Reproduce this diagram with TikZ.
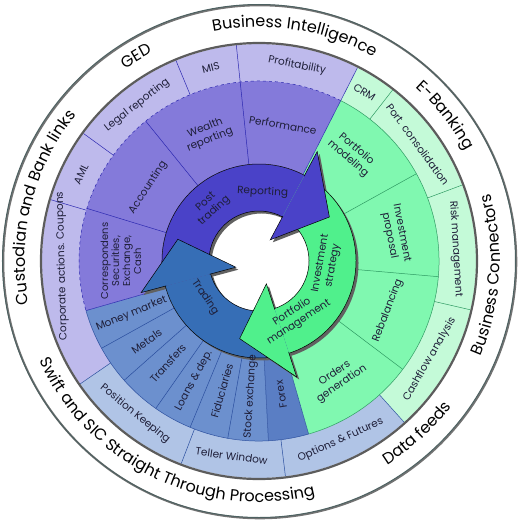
\documentclass[tikz,border=0pt]{standalone}
\usepackage{fontspec}
\setmainfont{Poppins}
\usetikzlibrary{decorations.text}
\definecolor{lpur}{HTML}{BEBAEC}
\definecolor{mpur}{HTML}{847ADA}
\definecolor{apur}{HTML}{4A42C8}
\definecolor{lblu}{HTML}{B0C4E6}
\definecolor{mblu}{HTML}{6C90CE}
\definecolor{fblu}{HTML}{5A7EC4}
\definecolor{ablu}{HTML}{366EB6}
\definecolor{lgrn}{HTML}{C4FAD8}
\definecolor{mgrn}{HTML}{80F8B0}
\definecolor{agrn}{HTML}{50F08C}
\definecolor{txt}{HTML}{1E1E38}
\definecolor{seppur}{HTML}{2C28B0}
\definecolor{sepblu}{HTML}{2A4E9E}
\definecolor{sepgrn}{HTML}{2E9A62}
\definecolor{cRing}{HTML}{5C5C5C}
\definecolor{cOuter}{HTML}{4E6262}
\newcommand{\annsec}[5]{\fill[#1] (#2:#4pt) arc[start angle=#2,end angle=#3,radius=#4pt] -- (#3:#5pt) arc[start angle=#3,end angle=#2,radius=#5pt] -- cycle;}
\newcommand{\radline}[4]{\draw[#1] (#2:#3pt) -- (#2:#4pt);}
\newcommand{\outerfont}{\fontsize{16}{19}\selectfont}
\tikzset{
  lab/.style={text=txt, font=\fontsize{10.5}{12.5}\selectfont, align=center, inner sep=0pt},
  sp/.style={line width=0.5pt, seppur},
  sb/.style={line width=0.5pt, sepblu},
  sg/.style={line width=0.5pt, sepgrn},
  shad/.style={fill=black!62},
  aline/.style={draw=black, line width=0.5pt},
  outerlab/.style={decorate, decoration={text along path, text align=center, text={#1}}}
}
\begin{document}
\begin{tikzpicture}
\useasboundingbox (-259pt,-259pt) rectangle (261pt,261pt);
% outermost circle
\draw[line width=2pt, black!55] (0.8pt,-0.8pt) circle[radius=256.5pt];
\draw[line width=1pt, cOuter] (0,0) circle[radius=256.5pt];
% light band
\annsec{lpur}{63}{214.5}{180}{217}
\annsec{lblu}{214.5}{312}{180}{217}
\annsec{lgrn}{312}{423}{180}{217}
% middle band
\annsec{mpur}{63}{196}{97}{180}
\annsec{mblu}{196}{273}{97}{180}
\annsec{fblu}{273}{286}{97}{180}
\annsec{mgrn}{286}{423}{97}{180}
% separators light band
\radline{sp}{96}{180}{217}
\radline{sp}{112.5}{180}{217}
\radline{sp}{144}{180}{217}
\radline{sp}{163.6}{180}{217}
\radline{sp}{63}{97}{217}
\radline{sb}{214.5}{180}{217}
\radline{sb}{249}{180}{217}
\radline{sb}{277}{180}{217}
\radline{sb}{312}{180}{217}
\radline{sg}{347}{180}{217}
\radline{sg}{380.5}{180}{217}
\radline{sg}{412}{180}{217}
% separators middle band
\radline{sp}{96}{97}{180}
\radline{sp}{129}{97}{180}
\radline{sp}{163}{97}{180}
\radline{sp}{196}{97}{180}
\radline{sb}{209}{97}{180}
\radline{sb}{221.5}{97}{180}
\radline{sb}{235}{97}{180}
\radline{sb}{247.5}{97}{180}
\radline{sb}{260}{97}{180}
\radline{sb}{273}{97}{180}
\radline{sb}{286}{97}{180}
\radline{sg}{323}{97}{180}
\radline{sg}{355}{97}{180}
\radline{sg}{389}{97}{180}
% band boundary arcs
\draw[sp, dashed] (63:180pt) arc[start angle=63,end angle=196,radius=180pt];
\draw[sb] (196:180pt) arc[start angle=196,end angle=286,radius=180pt];
\draw[sg] (286:180pt) arc[start angle=286,end angle=423,radius=180pt];
% band border
\draw[line width=2.2pt, cRing] (0,0) circle[radius=218pt];
% arrow shadows
\begin{scope}[shift={(2.5pt,-2.5pt)}]
\fill[shad] (195:97pt) arc[start angle=195,end angle=62,radius=97pt] -- (62:50pt) arc[start angle=62,end angle=195,radius=50pt] -- cycle;
\fill[shad] (62:97pt) arc[start angle=62,end angle=-72,radius=97pt] -- (-72:50pt) arc[start angle=-72,end angle=62,radius=50pt] -- cycle;
\fill[shad] (288:97pt) arc[start angle=288,end angle=195,radius=97pt] -- (195:50pt) arc[start angle=195,end angle=288,radius=50pt] -- cycle;
\fill[shad] (62:124pt) -- (32:83pt) -- (62:24pt) -- cycle;
\fill[shad] (-72:122pt) -- (-104:80pt) -- (-72:24pt) -- cycle;
\fill[shad] (195:122pt) -- (165:84pt) -- (195:24pt) -- cycle;
\end{scope}
% arrow bodies
\fill[apur] (195:97pt) arc[start angle=195,end angle=62,radius=97pt] -- (62:50pt) arc[start angle=62,end angle=195,radius=50pt] -- cycle;
\draw[aline] (195:97pt) arc[start angle=195,end angle=62,radius=97pt];
\draw[aline] (195:50pt) arc[start angle=195,end angle=62,radius=50pt];
\fill[agrn] (62:97pt) arc[start angle=62,end angle=-72,radius=97pt] -- (-72:50pt) arc[start angle=-72,end angle=62,radius=50pt] -- cycle;
\draw[aline] (62:97pt) arc[start angle=62,end angle=-72,radius=97pt];
\draw[aline] (62:50pt) arc[start angle=62,end angle=-72,radius=50pt];
\fill[ablu] (288:97pt) arc[start angle=288,end angle=195,radius=97pt] -- (195:50pt) arc[start angle=195,end angle=288,radius=50pt] -- cycle;
\draw[aline] (288:97pt) arc[start angle=288,end angle=195,radius=97pt];
\draw[aline] (288:50pt) arc[start angle=288,end angle=195,radius=50pt];
% arrow heads
\fill[apur] (62:124pt) -- (32:83pt) -- (62:24pt) -- cycle;
\draw[aline] (62:96pt) -- (62:124pt) -- (32:83pt) -- (62:24pt) -- (62:51pt);
\fill[agrn] (-72:122pt) -- (-104:80pt) -- (-72:24pt) -- cycle;
\draw[aline] (-72:96pt) -- (-72:122pt) -- (-104:80pt) -- (-72:24pt) -- (-72:51pt);
\fill[ablu] (195:122pt) -- (165:84pt) -- (195:24pt) -- cycle;
\draw[aline] (195:96pt) -- (195:122pt) -- (165:84pt) -- (195:24pt) -- (195:51pt);
% outer curved labels
\path[outerlab={|\outerfont|Business Intelligence}] (121:234pt) arc[start angle=121,end angle=41,radius=234pt];
\path[outerlab={|\outerfont|GED}] (141:234pt) arc[start angle=141,end angle=101,radius=234pt];
\path[outerlab={|\outerfont|Custodian and Bank links}] (216:234pt) arc[start angle=216,end angle=116,radius=234pt];
\path[outerlab={|\outerfont|E-Banking}] (68:234pt) arc[start angle=68,end angle=8,radius=234pt];
\path[outerlab={|\outerfont|Business Connectors}] (-50:241pt) arc[start angle=-50,end angle=43,radius=241pt];
\path[outerlab={|\outerfont|Data feeds}] (282.5:241pt) arc[start angle=282.5,end angle=342.5,radius=241pt];
\path[outerlab={|\outerfont|Swift and SIC Straight Through Processing}] (184:241pt) arc[start angle=184,end angle=304,radius=241pt];
% light band labels
\node[lab, rotate=-11] (profit) at (79:199pt) {Profitability};
\node[lab, rotate=14] (mis) at (104:199pt) {MIS};
\node[lab, rotate=38] (legal) at (128:198pt) {Legal reporting};
\node[lab, rotate=64] (aml) at (154:198pt) {AML};
\node[lab, rotate=91.5] (corp) at (181.5:197pt) {Corporate actions. Coupons};
\node[lab, rotate=-39] (poskeep) at (231:197pt) {Position Keeping};
\node[lab, rotate=-8] (teller) at (262:197pt) {Teller Window};
\node[lab, rotate=24.5] (options) at (294.5:197pt) {Options \& Futures};
\node[lab, rotate=60] (cash) at (330:197pt) {Cashflow analysis};
\node[lab, rotate=-86.5] (risk) at (3.5:197pt) {Risk management};
\node[lab, rotate=-53.7] (port) at (36.3:197pt) {Port. consolidation};
\node[lab, rotate=-32] (crm) at (58:199pt) {CRM};
% middle band labels
\node[lab, rotate=-10] (perf) at (80:138pt) {Performance};
\node[lab, rotate=22] (wealth) at (112:137pt) {Wealth\\reporting};
\node[lab, rotate=56.5] (acc) at (146.5:133pt) {Accounting};
\node[lab, rotate=90, font=\fontsize{10}{11}\selectfont] (corr) at (180:138pt) {Correspondens\\Securities,\\Exchange,\\Cash};
\node[lab, rotate=22.6] (money) at (202.6:138pt) {Money market};
\node[lab, rotate=35.5] (metals) at (215.5:138pt) {Metals};
\node[lab, rotate=48.3] (transf) at (228.3:137pt) {Transfers};
\node[lab, rotate=61.5] (loans) at (241.5:136pt) {Loans \& dep.};
\node[lab, rotate=74] (fidu) at (254:135pt) {Fiduciaries};
\node[lab, rotate=86.5] (stock) at (266.5:136pt) {Stock exchange};
\node[lab, rotate=99.5] (forex) at (279.5:135pt) {Forex};
\node[lab, rotate=34] (orders) at (304:142pt) {Orders\\generation};
\node[lab, rotate=69] (rebal) at (339:138pt) {Rebalancing};
\node[lab, rotate=-79] (invprop) at (11:139pt) {Investment\\proposal};
\node[lab, rotate=-41] (pmodel) at (49:142pt) {Portfolio\\modeling};
% arrow labels
\node[lab, rotate=-3] (rep) at (87:69pt) {Reporting};
\node[lab, rotate=42] (post) at (132:73pt) {Post\\trading};
\node[lab, rotate=80] (invstr) at (-3:68pt) {Investment\\strategy};
\node[lab, rotate=33] (pman) at (-57:67pt) {Portfolio\\management};
\node[lab, rotate=-56] (trad) at (214:65pt) {Trading};
\end{tikzpicture}
\end{document}
